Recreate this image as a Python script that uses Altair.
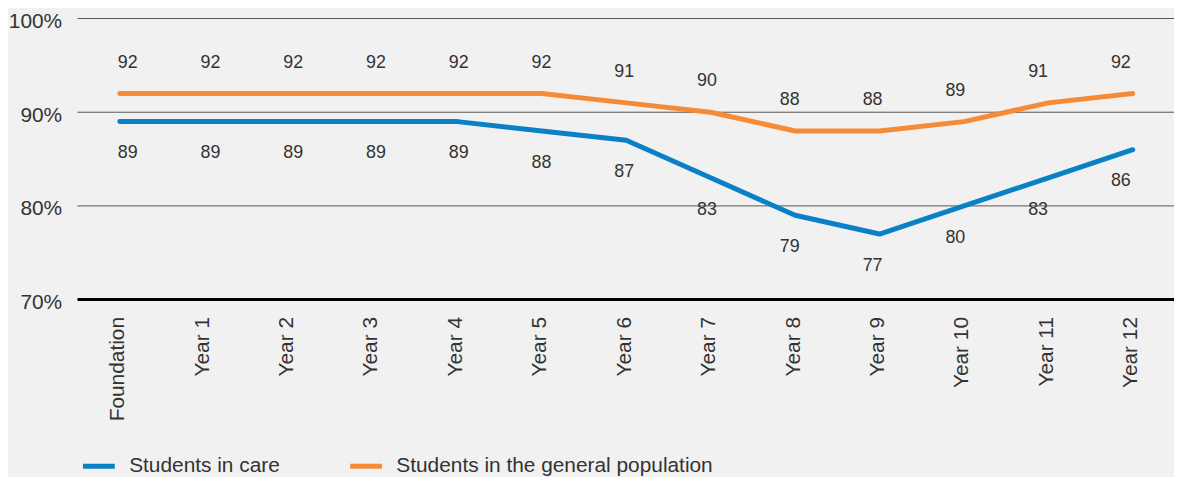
import altair as alt
import pandas as pd

years = ["Foundation", "Year 1", "Year 2", "Year 3", "Year 4", "Year 5", "Year 6",
         "Year 7", "Year 8", "Year 9", "Year 10", "Year 11", "Year 12"]
in_care = [89, 89, 89, 89, 89, 88, 87, 83, 79, 77, 80, 83, 86]
general = [92, 92, 92, 92, 92, 92, 91, 90, 88, 88, 89, 91, 92]
series_names = ["Students in care", "Students in the general population"]
colors = ["#0a80c6", "#f68b37"]
y_ticks = [70, 80, 90, 100]

rows = []
for i, y in enumerate(years):
    rows.append({"year": y, "series": series_names[0], "value": in_care[i]})
    rows.append({"year": y, "series": series_names[1], "value": general[i]})
df = pd.DataFrame(rows)
ticks_df = pd.DataFrame({"value": y_ticks})

FONT = "Liberation Sans"
TXT = "#333333"
W, H = 1096, 283

y_scale = alt.Scale(domain=[70, 100], nice=False, zero=False)
y_axis = alt.Axis(values=y_ticks, labelExpr="datum.value + '%'",
                  labelFont=FONT, labelFontSize=21, labelColor=TXT,
                  ticks=False, domain=False, labelPadding=16, grid=False,
                  labelOffset=3)


def y_enc():
    return alt.Y("value:Q", title=None, scale=y_scale, axis=y_axis)


x_line = alt.X("year:N", sort=years, title=None,
               scale=alt.Scale(type="point", padding=0, range=[42.5, 1062.5]),
               axis=alt.Axis(labelAngle=-90, labelFont=FONT, labelFontSize=21,
                             labelColor=TXT, ticks=False, labelPadding=17,
                             domain=False, grid=False, labelAlign="right",
                             labelBaseline="middle", labelOffset=-2))
color_enc = alt.Color("series:N", sort=series_names,
                      scale=alt.Scale(domain=series_names, range=colors),
                      legend=alt.Legend(title=None, orient="none", direction="horizontal",
                                        legendX=3, legendY=432,
                                        symbolType="stroke", symbolSize=1024,
                                        symbolStrokeWidth=5, labelFont=FONT,
                                        labelFontSize=21, labelColor=TXT,
                                        labelOffset=12, columnPadding=60,
                                        labelLimit=500))

grid = alt.Chart(ticks_df).transform_filter(alt.datum.value > 70).mark_rule(
    color="#555555", strokeWidth=1).encode(
    y=y_enc(), x=alt.value(0), x2=alt.value(W + 8))

baseline = alt.Chart(ticks_df).transform_filter(alt.datum.value == 70).mark_rule(
    color="#000000", strokeWidth=3).encode(
    y=y_enc(), x=alt.value(0), x2=alt.value(W + 8))

lines = alt.Chart(df).mark_line(strokeWidth=5, strokeCap="round", strokeJoin="round").encode(
    x=x_line, y=y_enc(), color=color_enc)

x_lab = alt.X("year:N", sort=years, title=None,
              scale=alt.Scale(type="point", padding=0, range=[50.5, 1050.5]),
              axis=None)

labels_care = alt.Chart(df).transform_filter(alt.datum.series == series_names[0]).mark_text(
    font=FONT, fontSize=18, color=TXT, dy=32).encode(
    x=x_lab, y=y_enc(), text=alt.Text("value:Q"))

labels_gen = alt.Chart(df).transform_filter(alt.datum.series == series_names[1]).mark_text(
    font=FONT, fontSize=18, color=TXT, dy=-31).encode(
    x=x_lab, y=y_enc(), text=alt.Text("value:Q"))

labels = alt.layer(labels_care, labels_gen)

chart = alt.layer(grid, baseline, lines, labels).resolve_scale(x="independent").properties(
    width=W, height=H,
    autosize=alt.AutoSizeParams(type="none"),
    padding={"left": 70, "top": 9, "right": 8, "bottom": 177},
    background="#f1f1f1",
).configure_view(stroke=None)

chart.save("out.html", embed_options={"renderer": "svg", "actions": False})
